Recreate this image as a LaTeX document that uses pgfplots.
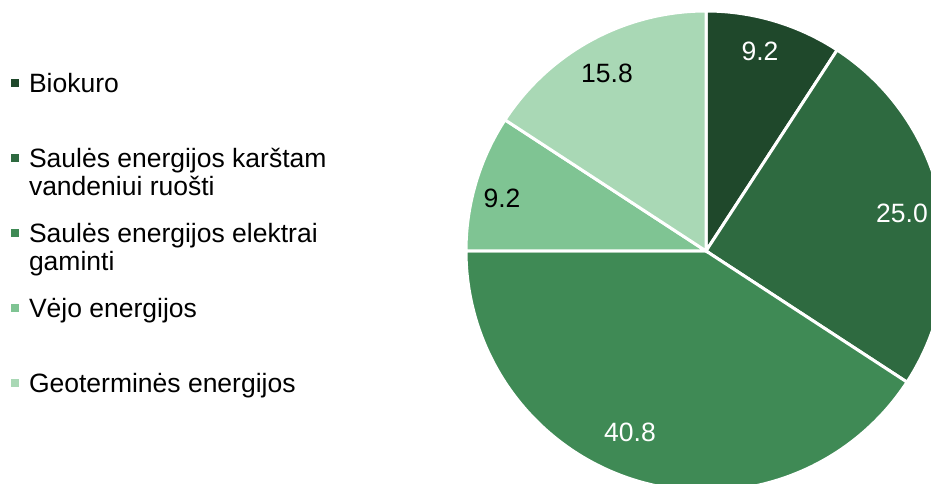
\documentclass[border=0pt]{standalone}
\usepackage{pgfplots}
\pgfplotsset{compat=1.18}
\usepackage{fontspec}
\setmainfont{Liberation Sans}
\definecolor{c1}{HTML}{1F482B}
\definecolor{c2}{HTML}{2E6A40}
\definecolor{c3}{HTML}{3F8A55}
\definecolor{c4}{HTML}{7FC493}
\definecolor{c5}{HTML}{A9D8B5}
% slice values (%)
\def\vA{9.2}
\def\vB{25.0}
\def\vC{40.8}
\def\vD{9.2}
\def\vE{15.8}
\pgfmathsetmacro\aA{90-3.6*\vA}
\pgfmathsetmacro\aB{\aA-3.6*\vB}
\pgfmathsetmacro\aC{\aB-3.6*\vC}
\pgfmathsetmacro\aD{\aC-3.6*\vD}
\pgfmathsetmacro\aE{\aD-3.6*\vE}
\newcommand{\lgt}[2]{\begin{tabular}[t]{@{}l@{}}#1\\#2\end{tabular}}
\begin{document}
\begin{tikzpicture}
\begin{axis}[
  hide axis,
  x=1bp, y=1bp,
  xmin=0, xmax=931, ymin=0, ymax=484,
  clip=true,
  legend image code/.code={\fill[#1,draw=none] (0bp,6bp) rectangle (8bp,14bp);},
  legend style={at={(axis cs:11,410.6)}, anchor=north west, draw=none, fill=none,
    inner sep=0pt, outer sep=0pt, row sep=55.4bp, column sep=10bp,
    nodes={inner sep=0pt, outer sep=0pt, text height=19.6bp, text depth=0pt},
    cells={anchor=base west},
    font=\fontsize{26.5bp}{28bp}\selectfont},
  every axis plot/.append style={draw=white, line width=3bp, samples=120},
]
\addplot[fill=c1, domain=90:\aA] ({706+240*cos(x)},{233+240*sin(x)}) -- (axis cs:706,233) -- cycle;
\addlegendentry{\lgt{Biokuro}{}}
\addplot[fill=c2, domain=\aA:\aB] ({706+240*cos(x)},{233+240*sin(x)}) -- (axis cs:706,233) -- cycle;
\addlegendentry{\lgt{Saulės energijos karštam}{vandeniui ruošti}}
\addplot[fill=c3, domain=\aB:\aC] ({706+240*cos(x)},{233+240*sin(x)}) -- (axis cs:706,233) -- cycle;
\addlegendentry{\lgt{Saulės energijos elektrai}{gaminti}}
\addplot[fill=c4, domain=\aC:\aD] ({706+240*cos(x)},{233+240*sin(x)}) -- (axis cs:706,233) -- cycle;
\addlegendentry{\lgt{Vėjo energijos}{}}
\addplot[fill=c5, domain=\aD:\aE] ({706+240*cos(x)},{233+240*sin(x)}) -- (axis cs:706,233) -- cycle;
\addlegendentry{\lgt{Geoterminės energijos}{}}
\begin{scope}[every node/.style={font=\fontsize{26.5bp}{28bp}\selectfont, inner sep=0pt, anchor=center}]
\node[text=white] at (axis cs:760,433) {\vA};
\node[text=white] at (axis cs:902,271) {\vB};
\node[text=white] at (axis cs:630,52) {\vC};
\node[text=black] at (axis cs:502,286) {\vD};
\node[text=black] at (axis cs:607,411) {\vE};
\end{scope}
\coordinate (bbA) at (axis cs:0,0);
\coordinate (bbB) at (axis cs:931,484);
\end{axis}
\pgfresetboundingbox
\path[use as bounding box] (bbA) rectangle (bbB);
\end{tikzpicture}
\end{document}
